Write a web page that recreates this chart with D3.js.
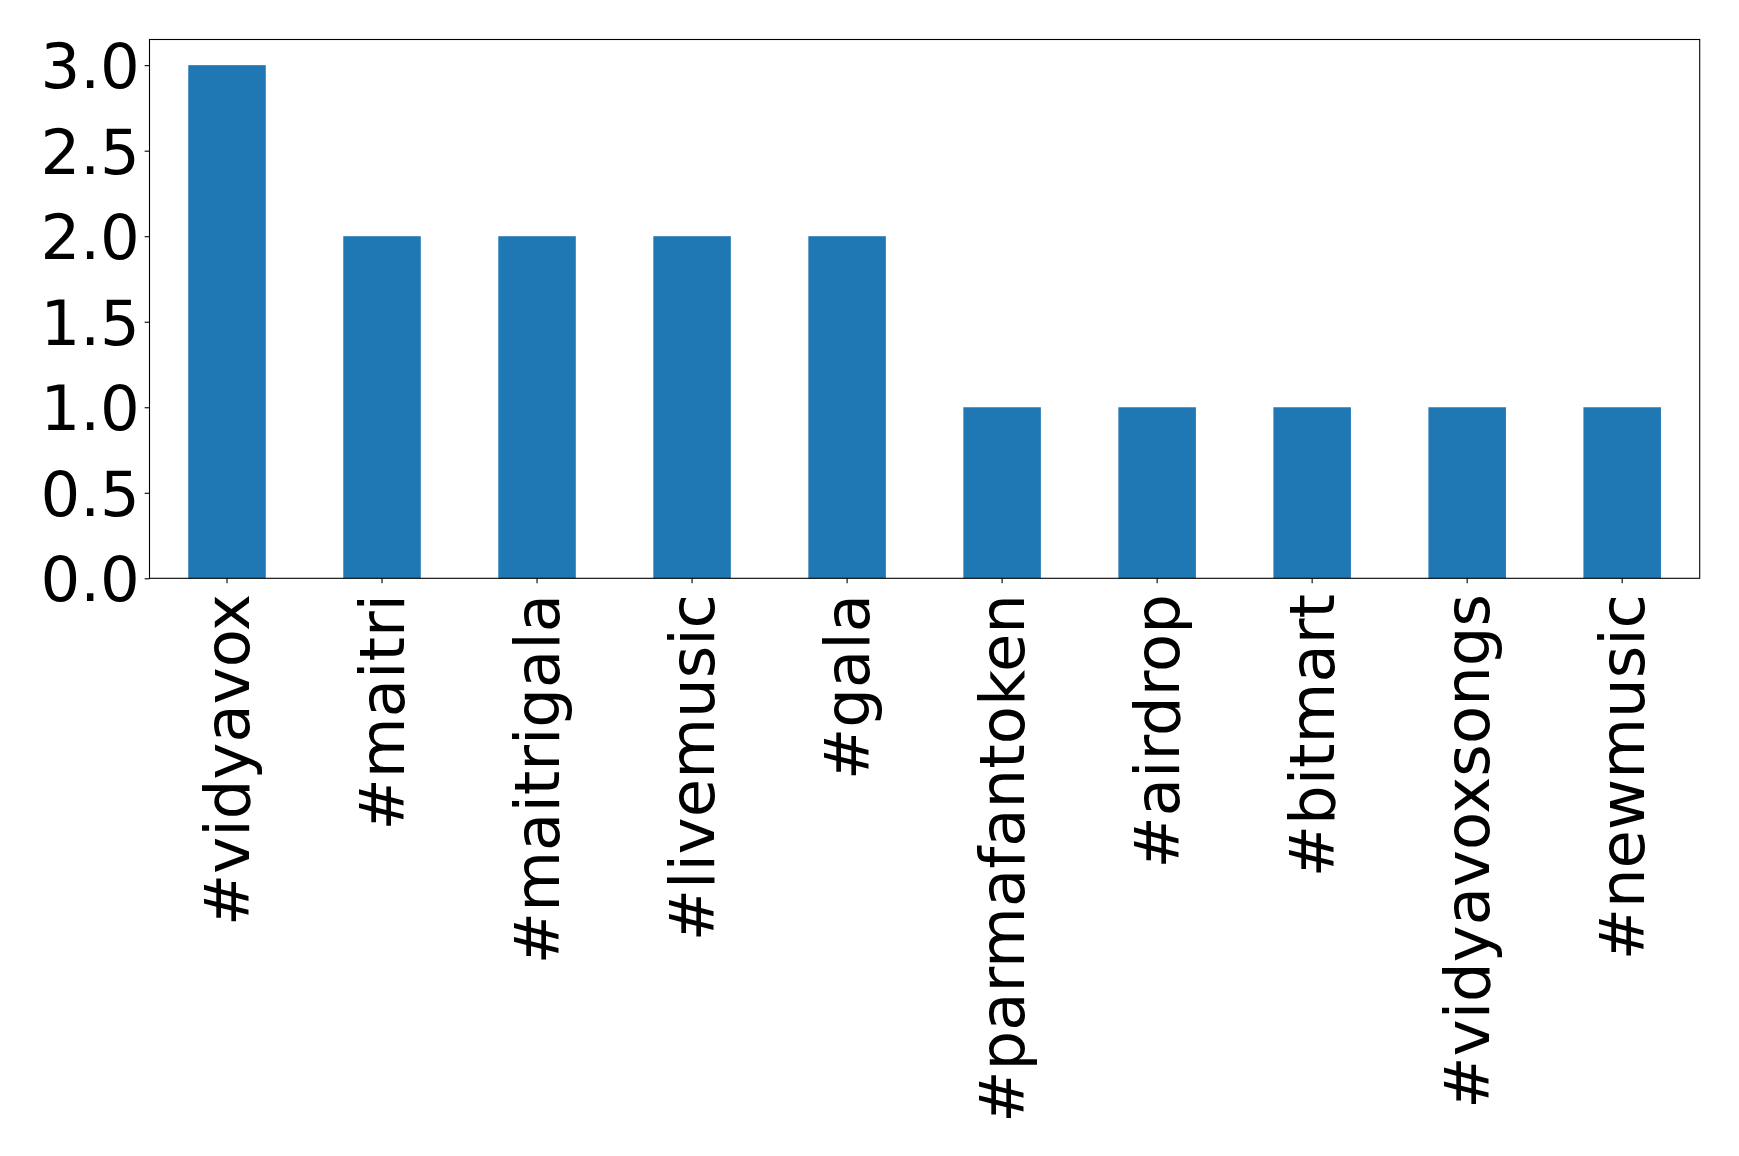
<!DOCTYPE html>
<html>
<head>
<meta charset="utf-8">
<script src="https://cdn.jsdelivr.net/npm/d3@7"></script>
<style>
  html, body { margin: 0; padding: 0; background: #fff; }
  svg { display: block; }
  text { font-family: "DejaVu Sans", sans-serif; fill: #000; }
</style>
</head>
<body>
<svg id="chart" width="1739" height="1156"></svg>
<script>
const categories = ["#vidyavox", "#maitri", "#maitrigala", "#livemusic", "#gala",
  "#parmafantoken", "#airdrop", "#bitmart", "#vidyavoxsongs", "#newmusic"];
const counts = [3, 2, 2, 2, 2, 1, 1, 1, 1, 1];
const yTicks = [0, 0.5, 1.0, 1.5, 2.0, 2.5, 3.0];

const W = 1739, H = 1156;
const margin = { left: 149.5, top: 39.5, right: W - 1699.7, bottom: H - 578.3 };
const plotW = W - margin.left - margin.right;
const plotH = H - margin.top - margin.bottom;
const FONT = "62.5px";
const TICK = 4.86, PAD = 4.86;

const svg = d3.select("#chart");
const g = svg.append("g").attr("transform", `translate(${margin.left},${margin.top})`);

const x = d3.scaleBand().domain(categories).range([0, plotW]).paddingInner(0.5).paddingOuter(0.25);
const yMax = d3.max(counts) * 1.05;
const y = d3.scaleLinear().domain([0, yMax]).range([plotH, 0]);

// bars
g.selectAll("rect.bar").data(categories).enter().append("rect")
  .attr("class", "bar")
  .attr("x", d => x(d))
  .attr("width", x.bandwidth())
  .attr("y", (d, i) => y(counts[i]))
  .attr("height", (d, i) => y(0) - y(counts[i]))
  .attr("fill", "#1f77b4");

// y axis
const yAxis = d3.axisLeft(y).tickValues(yTicks).tickFormat(d3.format(".1f")).tickSize(TICK).tickPadding(PAD);
const yg = g.append("g").call(yAxis);
yg.select(".domain").remove();
yg.selectAll(".tick line").attr("stroke", "#000").attr("stroke-width", 1.1);
yg.selectAll(".tick text").attr("font-size", FONT).attr("font-family", "DejaVu Sans").attr("dy", "0.36em");

// x axis
const xAxis = d3.axisBottom(x).tickSize(TICK).tickPadding(PAD);
const xg = g.append("g").attr("transform", `translate(0,${plotH})`).call(xAxis);
xg.select(".domain").remove();
xg.selectAll(".tick line").attr("stroke", "#000").attr("stroke-width", 1.1);
xg.selectAll(".tick text")
  .attr("font-size", FONT)
  .attr("font-family", "DejaVu Sans")
  .attr("text-anchor", "end")
  .attr("y", 0)
  .attr("dy", "0.35em")
  .attr("transform", `translate(0,${TICK + PAD + 6}) rotate(-90)`);

// frame
g.append("rect")
  .attr("x", 0).attr("y", 0).attr("width", plotW).attr("height", plotH)
  .attr("fill", "none").attr("stroke", "#000").attr("stroke-width", 1.1);
</script>
</body>
</html>
